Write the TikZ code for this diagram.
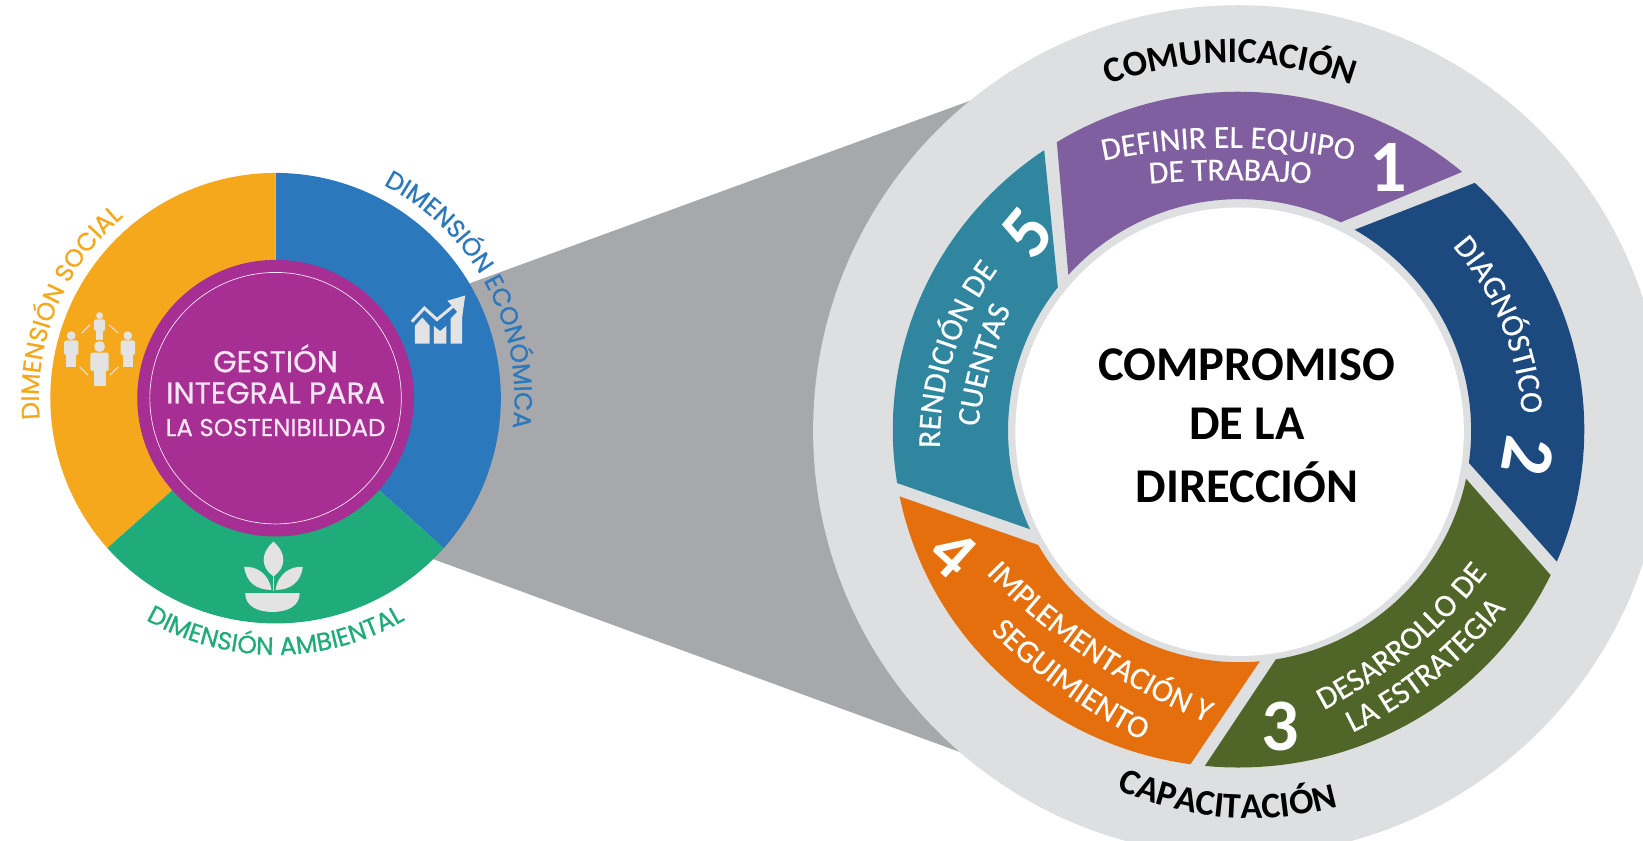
\documentclass[tikz,border=0pt]{standalone}
\usepackage{fontspec}
\setmainfont{Carlito}
\newfontfamily\popf[FakeBold=0.6]{Poppins}
\newfontfamily\segf[FakeBold=0.35]{Carlito}
\usetikzlibrary{decorations.text}
\definecolor{cOr}{HTML}{F6A81C}
\definecolor{cBl}{HTML}{2B78BD}
\definecolor{cGr}{HTML}{1FAB7A}
\definecolor{cPu}{HTML}{A72E92}
\definecolor{cIc}{HTML}{E3E3E3}
\definecolor{cTx}{HTML}{F6E6F3}
\definecolor{rPu}{HTML}{7F5F9F}
\definecolor{rNa}{HTML}{1C4A7F}
\definecolor{rGr}{HTML}{4F6628}
\definecolor{rOr}{HTML}{E56F0D}
\definecolor{rTe}{HTML}{30869F}
\definecolor{disc}{HTML}{DEDFE0}
\definecolor{cone}{HTML}{A6A8AB}
\newcommand{\arctxt}[7]{\path[decorate,decoration={text along path,text align=center,text={|#6|#7}}]
  plot[domain=#4:#5,samples=50] ({#1+#3*cos(\x)},{#2-#3*sin(\x)});}
\newcommand{\fsz}[1]{\fontsize{#1}{#1}\selectfont}
\newcommand{\lefta}[1]{\popf\fsz{25}\color{#1}}
\newcommand{\righta}{\fsz{36}\bfseries\color{black}}
\newcommand{\segt}{\segf\fsz{32}\color{white}}
% colour, outer from/to, inner from/to
\newcommand{\segm}[5]{\fill[#1,line join=round]
  plot[domain=#2:#3,samples=40] ({1182+330*cos(\x)},{410-322.5*sin(\x)})
  -- plot[domain=#4:#5,samples=40] ({1183+221*cos(\x)},{411-221*sin(\x)}) -- cycle;}
\newcommand{\person}[3]{%
  \fill[cIc] (#1,#2-#3*0.72) circle[radius=#3*0.22];
  \fill[cIc,rounded corners=1.5pt] (#1-#3*0.36,#2-#3*0.48) rectangle (#1+#3*0.36,#2+#3*0.25);
  \fill[cIc] (#1-#3*0.24,#2+#3*0.1) rectangle (#1+#3*0.24,#2+#3*0.85);}
\tikzset{num/.style={font=\fsz{74}\bfseries,text=white,inner sep=0pt},
 title/.style={font=\fsz{48.5}\bfseries,text=black,inner sep=0pt},
 gi/.style={font=\popf\fsz{30},text=cTx,inner sep=0pt}}
\begin{document}
\begin{tikzpicture}[x=1.0478pt,y=-1.0478pt]
\useasboundingbox (0,0) rectangle (1568,802);
\clip (0,0) rectangle (1568,802);
\fill[white] (0,0) rectangle (1568,802);
% cone
\fill[cone] (440,273.4) -- (940,91) -- (1100,91) -- (1100,730) -- (936,725) -- (405,530.5) -- cycle;
% big disc
\fill[disc] (1182,411) circle[radius=406];
% segments
\segm{rTe}{189.1}{124.2}{141.7}{205.2}
\segm{rPu}{121.7}{49.7}{64.1}{137.7}
\segm{rNa}{46.9}{-23}{-8}{60.2}
\segm{rGr}{-25.5}{-95.6}{-81}{-12}
\segm{rOr}{191.4}{262}{275}{209.6}
% white centre
\fill[white] (1183,412) circle[radius=214];
% centre text
\node[title] (t1) at (1190,348) {COMPROMISO};
\node[title] (t2) at (1190,404) {DE LA};
\node[title] (t3) at (1190,460) {DIRECCIÓN};
% numbers
\node[num] (n1) at (1325,160) {1};
\node[num,rotate=-100] (n2) at (1458,435) {2};
\node[num] (n3) at (1222,693) {3};
\node[num,rotate=-42,font=\fsz{70}\bfseries] (n4) at (909,528) {4};
\node[num,rotate=50] (n5) at (980,222) {5};
% arc labels right
\arctxt{1174}{392}{332}{130}{50}{\righta}{COMUNICACIÓN}
\arctxt{1194}{473}{308}{225}{306}{\righta}{CAPACITACIÓN}
\arctxt{1172}{726}{585}{108}{72}{\segt}{DEFINIR EL EQUIPO}
\arctxt{1174}{1072}{900}{98}{82}{\segt}{DE TRABAJO}
\arctxt{1183}{413}{270}{60}{-15}{\segt}{DIAGNÓSTICO}
\arctxt{1040}{253}{480}{-75}{-25}{\segt}{DESARROLLO DE}
\arctxt{1100}{314}{430}{-76}{-26}{\segt}{LA ESTRATEGIA}
\arctxt{1388}{112}{624}{214}{258}{\segt}{IMPLEMENTACIÓN Y}
\arctxt{1354}{187}{583}{214.3}{254.3}{\segt}{SEGUIMIENTO}
\arctxt{1169}{422}{272}{190}{134}{\segt}{RENDICIÓN DE}
\arctxt{1347}{461.5}{417}{180.5}{148.5}{\segt}{CUENTAS}
% left wheel
\fill[cBl] (263,380) -- plot[domain=90:-41.7,samples=60] ({263+215*cos(\x)},{380-215*sin(\x)}) -- cycle;
\fill[cOr] (263,380) -- plot[domain=90:221.7,samples=60] ({263+215*cos(\x)},{380-215*sin(\x)}) -- cycle;
\fill[cGr] (263,380) -- plot[domain=221.7:318.3,samples=60] ({263+215*cos(\x)},{380-215*sin(\x)}) -- cycle;
\fill[cPu] (263,380) circle[radius=132];
\draw[cTx,line width=.7pt] (263,380) circle[radius=120];
\node[gi] (g1) at (263,342) {GESTIÓN};
\node[gi] (g2) at (263,375) {INTEGRAL PARA};
\node[gi,font=\popf\fsz{24.5}] (g3) at (263,408) {LA SOSTENIBILIDAD};
\arctxt{263}{380}{226}{200}{115}{\lefta{cOr}}{DIMENSIÓN SOCIAL}
\arctxt{263}{380}{228}{78}{-22}{\lefta{cBl}}{DIMENSIÓN ECONÓMICA}
\arctxt{263}{380}{245}{225}{315}{\lefta{cGr}}{DIMENSIÓN AMBIENTAL}
% people icon
\person{68}{334}{19}
\person{122}{334}{19}
\person{95}{312}{15}
\person{95}{348}{24}
\draw[cIc,line width=1pt] (78,318)--(86,310) (104,310)--(113,318) (76,350)--(84,358) (105,358)--(113,350);
% chart icon
\fill[cIc] (396,328) -- (396,311) -- (403,303) -- (410,311) -- (410,328) -- cycle;
\fill[cIc] (414,328) -- (414,311) -- (420,316) -- (426,311) -- (426,328) -- cycle;
\fill[cIc] (430,328) -- (430,304) -- (441,293) -- (441,328) -- cycle;
\draw[cIc,line width=3pt] (393,307) -- (405,294) -- (417,305) -- (435,290);
\fill[cIc] (444,282) -- (441,303) -- (427,287) -- cycle;
% plant icon
\fill[cIc] (234,566) -- (286,566) .. controls (286,578) and (275,584) .. (260,584) .. controls (245,584) and (234,578) .. (234,566) -- cycle;
\draw[cIc,line width=1.5pt] (261,564) -- (261,520);
\fill[cIc] (261,517) .. controls (248,528) and (249,542) .. (261,550) .. controls (273,542) and (274,528) .. (261,517) -- cycle;
\fill[cIc] (233,541) .. controls (245,540) and (257,548) .. (259,563) .. controls (245,563) and (235,556) .. (233,541) -- cycle;
\fill[cIc] (289,541) .. controls (277,540) and (265,548) .. (263,563) .. controls (277,563) and (287,556) .. (289,541) -- cycle;
\end{tikzpicture}
\end{document}
